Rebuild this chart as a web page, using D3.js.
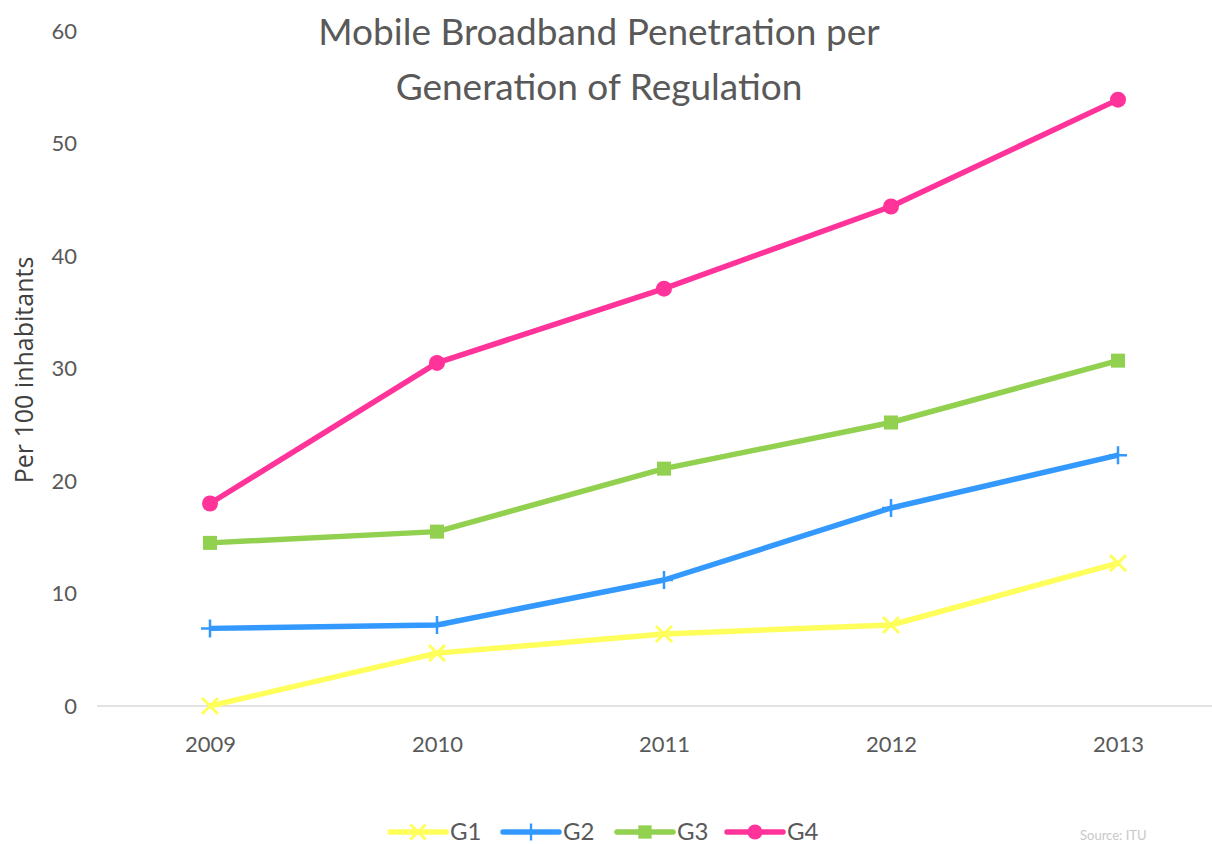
<!DOCTYPE html>
<html lang="en">

<head>
    <meta charset="UTF-8" />
    <title>Mobile Broadband Penetration</title>
    <script src="https://cdn.jsdelivr.net/npm/d3@7"></script>
    <style>
        body { margin: 0; background: #fff; }
        text { font-family: Lato, "Open Sans", sans-serif; }
    </style>
</head>

<body>
<script>
    // data
    let years = ["2009", "2010", "2011", "2012", "2013"];
    let seriesNames = ["G1", "G2", "G3", "G4"];
    let g1 = [0, 4.7, 6.4, 7.2, 12.7];
    let g2 = [6.9, 7.2, 11.2, 17.6, 22.3];
    let g3 = [14.5, 15.5, 21.1, 25.2, 30.7];
    let g4 = [18.0, 30.5, 37.1, 44.4, 53.9];
    let yTicks = [0, 10, 20, 30, 40, 50, 60];

    let w = 1212;
    let h = 844;

    let colors = { G1: "#ffff5c", G2: "#3399ff", G3: "#92d050", G4: "#ff3399" };
    let symbols = { G1: "x", G2: "plus", G3: "square", G4: "circle" };
    let values = { G1: g1, G2: g2, G3: g3, G4: g4 };

    let svg = d3.select("body").append("svg")
        .attr("width", w)
        .attr("height", h);

    let x = d3.scalePoint()
        .domain(years)
        .range([210, 1118]);

    let y = d3.scaleLinear()
        .domain([0, 60])
        .range([706, 31]);

    // baseline only
    svg.append("line")
        .attr("x1", 97).attr("x2", w)
        .attr("y1", y(0)).attr("y2", y(0))
        .attr("stroke", "#d9d9d9")
        .attr("stroke-width", 1.5);

    // y axis labels
    let yAxis = svg.append("g")
        .attr("transform", "translate(77,0)")
        .call(d3.axisLeft(y).tickValues(yTicks).tickSize(0).tickPadding(0));
    yAxis.select(".domain").remove();
    yAxis.selectAll("text")
        .attr("fill", "#595959")
        .style("font-size", "22px")
        .style("font-family", "Lato, sans-serif");

    // x axis labels
    let xAxis = svg.append("g")
        .attr("transform", "translate(0,736)")
        .call(d3.axisBottom(x).tickSize(0).tickPadding(0));
    xAxis.select(".domain").remove();
    xAxis.selectAll("text")
        .attr("fill", "#595959")
        .style("font-size", "22px")
        .style("font-family", "Lato, sans-serif");

    // y axis title
    svg.append("text")
        .attr("transform", "translate(33,370) rotate(-90)")
        .attr("text-anchor", "middle")
        .attr("fill", "#404040")
        .style("font-family", "'Open Sans', sans-serif")
        .style("font-size", "25px")
        .text("Per 100 inhabitants");

    // title
    let title = svg.append("text")
        .attr("text-anchor", "middle")
        .attr("fill", "#595959")
        .style("font-size", "37px");
    title.append("tspan").attr("x", 599).attr("y", 45).text("Mobile Broadband Penetration per");
    title.append("tspan").attr("x", 599).attr("y", 100).text("Generation of Regulation");

    function marker(sel, name, cx, cy, scale) {
        let c = colors[name];
        let s = symbols[name];
        let m = sel.append("g").attr("transform", `translate(${cx},${cy}) scale(${scale})`);
        if (s === "x") {
            m.append("path").attr("d", "M-8,-8L8,8M-8,8L8,-8")
                .attr("stroke", c).attr("stroke-width", 3).attr("fill", "none");
        } else if (s === "plus") {
            m.append("path").attr("d", "M-9,0L9,0M0,-9L0,9")
                .attr("stroke", c).attr("stroke-width", 2.5).attr("fill", "none");
        } else if (s === "square") {
            m.append("rect").attr("x", -7).attr("y", -7).attr("width", 14).attr("height", 14)
                .attr("fill", c);
        } else {
            m.append("circle").attr("r", 8).attr("fill", c);
        }
    }

    let line = d3.line()
        .x((d, i) => x(years[i]))
        .y(d => y(d));

    seriesNames.forEach(name => {
        let g = svg.append("g");
        g.append("path")
            .datum(values[name])
            .attr("d", line)
            .attr("fill", "none")
            .attr("stroke", colors[name])
            .attr("stroke-width", 5.5)
            .attr("stroke-linejoin", "round");
        values[name].forEach((v, i) => marker(g, name, x(years[i]), y(v), 1));
    });

    // legend
    let legendX = { G1: 390, G2: 503, G3: 617, G4: 727 };
    seriesNames.forEach(name => {
        let lx = legendX[name];
        let lg = svg.append("g");
        lg.append("line")
            .attr("x1", lx).attr("x2", lx + 56)
            .attr("y1", 832).attr("y2", 832)
            .attr("stroke", colors[name])
            .attr("stroke-width", 5.5)
            .attr("stroke-linecap", "round");
        marker(lg, name, lx + 28, 832, 0.95);
        lg.append("text")
            .attr("x", lx + 60).attr("y", 840)
            .attr("fill", "#595959")
            .style("font-size", "24px")
            .text(name);
    });

    // source note
    svg.append("text")
        .attr("x", 1080).attr("y", 840)
        .attr("fill", "#c8c8c8")
        .style("font-size", "13px")
        .text("Source: ITU");
</script>
</body>

</html>
